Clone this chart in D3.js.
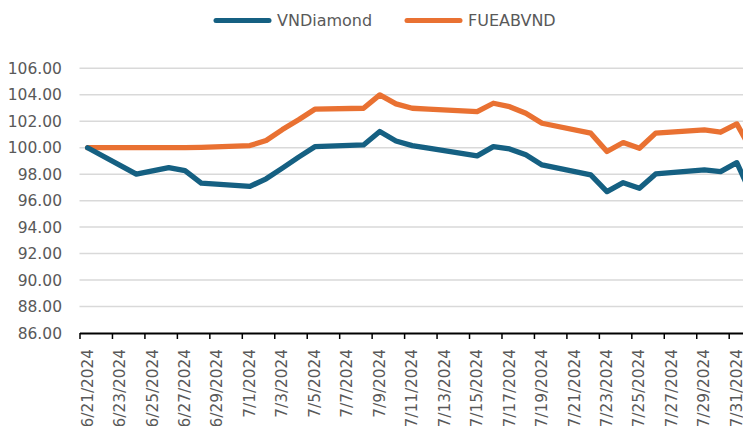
<!DOCTYPE html>
<html>
<head>
<meta charset="utf-8">
<script src="https://cdn.jsdelivr.net/npm/d3@7"></script>
<style>
  body { margin: 0; background: #fff; }
  svg { display: block; font-family: "DejaVu Sans", sans-serif; }
  .tick text { fill: #595959; }
</style>
</head>
<body>
<script>
// trading days (month is 1-based here)
var dates = ["6/21", "6/24", "6/25", "6/26", "6/27", "6/28", "7/1", "7/2", "7/3", "7/4",
             "7/5", "7/8", "7/9", "7/10", "7/11", "7/12", "7/15", "7/16", "7/17", "7/18",
             "7/19", "7/22", "7/23", "7/24", "7/25", "7/26", "7/29", "7/30", "7/31", "8/1"]
var vnDiamond = [100, 98.0, 98.25, 98.5, 98.27, 97.32, 97.08, 97.65, 98.46, 99.29,
                 100.08, 100.21, 101.22, 100.51, 100.16, 99.96, 99.38, 100.08, 99.91, 99.46,
                 98.70, 97.95, 96.68, 97.36, 96.94, 98.02, 98.32, 98.19, 98.87, 96.2]
var fueabvnd = [100, 100, 100, 100, 100, 100.03, 100.16, 100.55, 101.37, 102.12,
                102.91, 102.98, 103.99, 103.31, 102.98, 102.92, 102.73, 103.36, 103.10, 102.61,
                101.85, 101.10, 99.71, 100.39, 99.96, 101.10, 101.34, 101.17, 101.80, 99.6]
var seriesNames = ["VNDiamond", "FUEABVND"]
var seriesColors = ["#156082", "#E97132"]
var yTicks = [86, 88, 90, 92, 94, 96, 98, 100, 102, 104, 106]
// x tick labels every 2 days from 6/21 to 7/31
var xTickDays = d3.range(0, 41, 2)

WIDTH = 743
HEIGHT = 426
LEFT = 79.5
DAYPX = 16.23

function toDate(s, hour)
{
  var p = s.split("/")
  return new Date(Date.UTC(2024, +p[0] - 1, +p[1], hour || 0))
}

var start = new Date(Date.UTC(2024, 5, 21))
var end = new Date(Date.UTC(2024, 7, 2))

var svg = d3.select("body").append("svg")
            .attr("width", WIDTH)
            .attr("height", HEIGHT)

var xScale = d3.scaleUtc()
              .domain([start, end])
              .range([LEFT, LEFT + 42 * DAYPX])
var yScale = d3.scaleLinear()
              .domain([86, 106])
              .range([333, 68.3])

// gridlines
svg.append("g").selectAll("line")
  .data(yTicks.filter(function(d) { return d > 86 }))
  .enter().append("line")
  .attr("x1", LEFT).attr("x2", WIDTH)
  .attr("y1", function(d) { return yScale(d) })
  .attr("y2", function(d) { return yScale(d) })
  .attr("stroke", "#d9d9d9").attr("stroke-width", 1.5)

// y labels
svg.append("g").selectAll("text")
  .data(yTicks)
  .enter().append("text")
  .attr("x", 62).attr("y", function(d) { return yScale(d) })
  .attr("dy", "0.36em")
  .attr("text-anchor", "end")
  .attr("fill", "#595959")
  .style("font-size", "15.5px")
  .text(function(d) { return d3.format(".2f")(d) })

// x axis
var tickDates = xTickDays.map(function(d) { return new Date(Date.UTC(2024, 5, 21 + d)) })
var halfDay = DAYPX / 2
var xAxis = svg.append("g")
  .attr("transform", "translate(0,333)")
  .call(d3.axisBottom(xScale).tickValues(tickDates).tickSize(6).tickSizeOuter(0)
        .tickFormat(d3.utcFormat("%-m/%-d/%Y")))
xAxis.select(".domain").attr("stroke", "#000").attr("stroke-width", 2.2)
xAxis.selectAll(".tick line").attr("stroke", "#000").attr("stroke-width", 1.5)
xAxis.selectAll(".tick text")
  .attr("transform", "translate(" + (halfDay - 1) + ",0) rotate(-90)")
  .attr("x", -16).attr("y", 0).attr("dy", "0.36em")
  .attr("text-anchor", "end")
  .style("font-size", "15.3px")
  .style("font-family", "DejaVu Sans, sans-serif")

// lines
var allSeries = [vnDiamond, fueabvnd]
var line = d3.line()
  .x(function(d, i) { return xScale(toDate(dates[i], 12)) })
  .y(function(d) { return yScale(d) })

for (var s = allSeries.length - 1; s >= 0; s--)
{
  svg.append("path")
    .datum(allSeries[s])
    .attr("d", line)
    .attr("fill", "none")
    .attr("stroke", seriesColors[s])
    .attr("stroke-width", 5.3)
    .attr("stroke-linejoin", "round")
    .attr("stroke-linecap", "round")
}

// legend
var legendX = [216, 407]
for (var i = 0; i < seriesNames.length; i++)
{
  svg.append("line")
    .attr("x1", legendX[i]).attr("x2", legendX[i] + 53)
    .attr("y1", 20.5).attr("y2", 20.5)
    .attr("stroke", seriesColors[i]).attr("stroke-width", 5)
    .attr("stroke-linecap", "round")
  svg.append("text")
    .attr("x", legendX[i] + 61).attr("y", 26)
    .attr("fill", "#595959")
    .style("font-size", "16px")
    .text(seriesNames[i])
}
</script>
</body>
</html>
